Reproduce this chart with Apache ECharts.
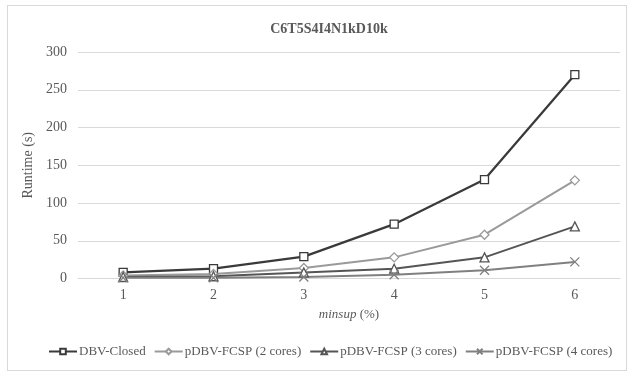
<!DOCTYPE html>
<html>
<head>
<meta charset="utf-8">
<script src="https://cdn.jsdelivr.net/npm/echarts@6/dist/echarts.min.js"></script>
<style>
  html, body { margin: 0; padding: 0; background: #fff; }
  #frame { position: absolute; left: 7px; top: 5px; width: 620px; height: 366px; border: 1px solid #d9d9d9; box-sizing: border-box; }
  #chart { position: absolute; left: 0; top: 0; width: 631px; height: 373px; }
</style>
</head>
<body>
<div id="frame"></div>
<div id="chart"></div>
<script>
// minsup thresholds (%)
const categories = ['1', '2', '3', '4', '5', '6'];
// runtimes in seconds
const dbvClosed = [8, 13, 29, 72, 131, 270];
const pdbv2 = [4, 6, 14, 28, 58, 130];
const pdbv3 = [2, 3, 8, 13, 28, 69];
const pdbv4 = [1, 1, 2, 5, 11, 22];
const seriesNames = ['DBV-Closed', 'pDBV-FCSP (2 cores)', 'pDBV-FCSP (3 cores)', 'pDBV-FCSP (4 cores)'];
const yTicks = [0, 50, 100, 150, 200, 250, 300];

const serif = '"Liberation Serif", "DejaVu Serif", serif';
const textGray = '#595959';
const crossPath = 'path://M0,0L10,10M10,0L0,10';

function lineSeries(name, data, color, symbol, size, width) {
  return {
    name: name,
    type: 'line',
    data: data,
    symbol: symbol,
    symbolSize: size,
    showAllSymbol: true,
    lineStyle: { color: color, width: width },
    itemStyle: { color: symbol === crossPath ? 'transparent' : '#fff', borderColor: color, borderWidth: 1.3 },
    emphasis: { disabled: true },
    animation: false
  };
}

const chart = echarts.init(document.getElementById('chart'), null, { renderer: 'canvas' });
chart.setOption({
  backgroundColor: 'transparent',
  animation: false,
  title: {
    text: 'C6T5S4I4N1kD10k',
    left: 324, top: 17, textAlign: 'center',
    textStyle: { fontFamily: serif, fontSize: 14, fontWeight: 'bold', color: textGray }
  },
  grid: { left: 78, right: 11, top: 52, bottom: 94.5 },
  legend: {
    bottom: 10, left: 43,
    itemWidth: 28, itemHeight: 7, itemGap: 8,
    textStyle: { fontFamily: serif, fontSize: 13, color: textGray, padding: [0, 0, 0, -3] },
    data: seriesNames
  },
  xAxis: {
    type: 'category',
    data: categories,
    boundaryGap: true,
    name: '{i|minsup} (%)',
    nameLocation: 'middle',
    nameGap: 30,
    nameTextStyle: {
      fontFamily: serif, fontSize: 13, color: textGray,
      rich: { i: { fontFamily: serif, fontSize: 13, fontStyle: 'italic', color: textGray } }
    },
    axisLine: { show: true, lineStyle: { color: '#d9d9d9', width: 1 } },
    axisTick: { show: false },
    axisLabel: { fontFamily: serif, fontSize: 14, color: textGray, margin: 10 }
  },
  yAxis: {
    type: 'value',
    min: yTicks[0], max: yTicks[yTicks.length - 1], interval: 50,
    name: 'Runtime (s)',
    nameLocation: 'middle',
    nameGap: 31,
    nameTextStyle: { fontFamily: serif, fontSize: 14, color: textGray },
    axisLine: { show: false },
    axisTick: { show: false },
    splitLine: { lineStyle: { color: '#d9d9d9', width: 1 } },
    axisLabel: { fontFamily: serif, fontSize: 14, color: textGray, margin: 11 }
  },
  series: [
    lineSeries(seriesNames[0], dbvClosed, '#3a3a3a', 'rect', 8, 2.25),
    lineSeries(seriesNames[1], pdbv2, '#9a9a9a', 'diamond', 9, 2),
    lineSeries(seriesNames[2], pdbv3, '#555555', 'triangle', 9, 2),
    lineSeries(seriesNames[3], pdbv4, '#808080', crossPath, 9, 2)
  ]
});
</script>
</body>
</html>
